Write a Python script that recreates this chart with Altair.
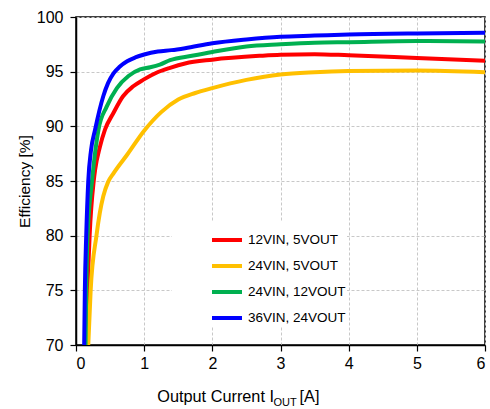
import altair as alt
import pandas as pd

# ---- data ----
series_names = ["12VIN, 5VOUT", "24VIN, 5VOUT", "24VIN, 12VOUT", "36VIN, 24VOUT"]
series_colors = ["#FF0000", "#FFC000", "#00B050", "#0000FF"]

red_x = [0.15, 0.17, 0.20, 0.26, 0.28, 0.35, 0.425, 0.547, 0.69, 0.84, 0.99, 1.18, 1.38, 1.6, 2.0, 2.7, 3.0, 3.5, 4.0, 5.0, 6.0]
red_y = [70.0, 75.0, 80.0, 85.0, 86.0, 88.1, 89.7, 91.2, 92.75, 93.66, 94.27, 94.9, 95.35, 95.75, 96.1, 96.45, 96.55, 96.6, 96.5, 96.25, 96.0]

yellow_x = [0.18, 0.215, 0.30, 0.35, 0.40, 0.47, 0.55, 0.75, 1.0, 1.25, 1.5, 1.75, 2.0, 2.5, 3.0, 3.5, 4.0, 5.0, 6.0]
yellow_y = [70.0, 75.0, 80.0, 82.1, 83.6, 84.9, 85.7, 87.4, 89.6, 91.3, 92.45, 93.05, 93.5, 94.25, 94.75, 94.95, 95.05, 95.1, 94.95]

green_x = [0.14, 0.15, 0.17, 0.235, 0.33, 0.45, 0.60, 0.77, 0.94, 1.09, 1.23, 1.38, 1.7, 2.0, 2.5, 3.0, 3.5, 4.0, 5.0, 6.0]
green_y = [70.0, 75.0, 80.0, 85.0, 89.7, 91.8, 93.5, 94.6, 95.2, 95.4, 95.65, 96.05, 96.45, 96.8, 97.3, 97.5, 97.65, 97.7, 97.8, 97.75]

blue_x = [0.12, 0.13, 0.15, 0.18, 0.22, 0.28, 0.40, 0.47, 0.55, 0.64, 0.75, 0.87, 1.0, 1.2, 1.4, 1.6, 2.0, 2.5, 3.0, 3.5, 4.0, 5.0, 6.0]
blue_y = [70.0, 75.0, 80.0, 85.0, 87.8, 89.7, 92.75, 93.95, 94.85, 95.45, 95.95, 96.3, 96.57, 96.85, 96.97, 97.15, 97.6, 97.95, 98.2, 98.3, 98.4, 98.5, 98.55]

x_ticks = [0, 1, 2, 3, 4, 5, 6]
y_ticks = [70, 75, 80, 85, 90, 95, 100]

rows = []
for name, xs, ys in zip(series_names,
                        [red_x, yellow_x, green_x, blue_x],
                        [red_y, yellow_y, green_y, blue_y]):
    for i, (xv, yv) in enumerate(zip(xs, ys)):
        rows.append({"series": name, "current": xv, "eff": yv, "idx": i})
df = pd.DataFrame(rows)

FONT = "Liberation Sans"

lines = alt.Chart(df).mark_line(
    strokeWidth=4, interpolate="monotone", clip=True, strokeCap="round"
).encode(
    x=alt.X("current:Q",
            scale=alt.Scale(domain=[0, 6], nice=False),
            axis=alt.Axis(values=x_ticks, title=None, format="d")),
    y=alt.Y("eff:Q",
            scale=alt.Scale(domain=[70, 100], nice=False),
            axis=alt.Axis(values=y_ticks, title="Efficiency [%]", format="d")),
    color=alt.Color("series:N",
                    scale=alt.Scale(domain=series_names, range=series_colors),
                    legend=alt.Legend(
                        orient="none", legendX=96, legendY=205, title=None,
                        fillColor="white", padding=1,
                        symbolType="stroke", symbolStrokeWidth=4, symbolSize=900,
                        symbolOffset=37, labelOffset=4,
                        labelExpr="datum.label + '\u00a0\u00a0\u00a0\u00a0\u00a0\u00a0\u00a0\u00a0\u00a0'",
                        labelFontSize=13.5, labelFont=FONT, labelColor="#000000",
                        rowPadding=1)),
    order=alt.Order("idx:Q"),
)

base_txt = alt.Chart(pd.DataFrame({"k": [0]}))
t1 = base_txt.mark_text(text="Output Current I", align="right", baseline="alphabetic",
                        fontSize=16.3, font=FONT, color="#000000").encode(
    x=alt.value(198), y=alt.value(385))
t2 = base_txt.mark_text(text="OUT", align="left", baseline="alphabetic",
                        fontSize=11, font=FONT, color="#000000").encode(
    x=alt.value(197.5), y=alt.value(388.5))
t3 = base_txt.mark_text(text="[A]", align="left", baseline="alphabetic",
                        fontSize=16.3, font=FONT, color="#000000").encode(
    x=alt.value(223.5), y=alt.value(385))

chart = alt.layer(lines, t1, t2, t3).properties(
    width=409, height=328,
    autosize=alt.AutoSizeParams(type="none"),
    padding={"left": 76, "top": 17, "right": 5, "bottom": 64},
    background="white",
).configure_view(
    stroke="#000000", strokeWidth=1.5
).configure_axis(
    domainColor="#000000", domainWidth=1.5,
    tickColor="#000000", tickSize=6, tickWidth=1.2,
    labelFont=FONT, labelFontSize=16, labelColor="#000000", labelPadding=4,
    titleFont=FONT, titleFontSize=15.5, titleColor="#000000", titleFontWeight="normal",
    grid=True, gridColor="#C8C8C8", gridDash=[3, 2], gridWidth=1,
).configure_axisY(
    labelPadding=7, titlePadding=4
)

chart.save("out.html", embed_options={"renderer": "svg", "actions": False})
